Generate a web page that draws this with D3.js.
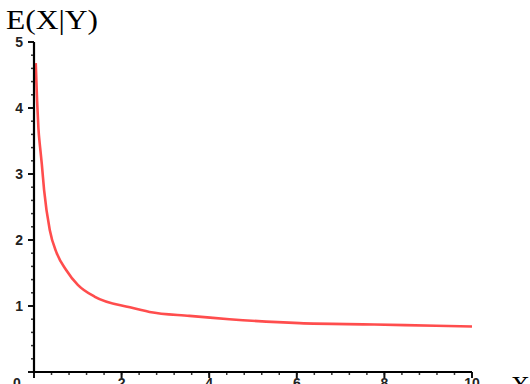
<!DOCTYPE html>
<html><head><meta charset="utf-8">
<script src="https://cdn.jsdelivr.net/npm/d3@7"></script>
<style>body{margin:0;background:#fff;overflow:hidden}svg{display:block}</style>
</head><body>
<svg id="c" width="530" height="384"></svg>
<script>
const xValues = [0.04, 0.07, 0.10, 0.14, 0.18, 0.23, 0.36, 0.52, 0.73, 1.0, 1.39, 2.19, 2.64, 3.55, 4.46, 6.06, 7.77, 9.18, 10];
const yValues = [4.68, 4.12, 3.70, 3.40, 3.14, 2.76, 2.15, 1.80, 1.55, 1.32, 1.14, 0.98, 0.91, 0.85, 0.80, 0.74, 0.72, 0.70, 0.69];
const xMajorTicks = [0, 2, 4, 6, 8, 10];
const yMajorTicks = [0, 1, 2, 3, 4, 5];
const yLabel = "E(X|Y)";
const xLabel = "X";

const svg = d3.select("#c");
const x = d3.scaleLinear().domain([0, 10]).range([34, 472]);
const y = d3.scaleLinear().domain([0, 5]).range([372, 42]);

// curve
const pts = xValues.map((v, i) => [v, yValues[i]]);
svg.append("path").datum(pts)
  .attr("fill", "none").attr("stroke", "#ff4d4d").attr("stroke-width", 2.6)
  .attr("d", d3.line().x(d => x(d[0])).y(d => y(d[1])).curve(d3.curveMonotoneX));

// y axis
const yMinor = d3.range(0, 5.001, 0.2);
const yAx = svg.append("g").attr("transform", `translate(${x(0)},0)`);
yAx.selectAll("line.mi").data(yMinor).join("line")
  .attr("x1", -3).attr("x2", 0).attr("y1", d => y(d)).attr("y2", d => y(d))
  .attr("stroke", "#333").attr("stroke-width", 1.5);
yAx.selectAll("line.ma").data(yMajorTicks).join("line")
  .attr("x1", -6).attr("x2", 0).attr("y1", d => y(d)).attr("y2", d => y(d))
  .attr("stroke", "#111").attr("stroke-width", 2);
yAx.append("line").attr("x1", 0).attr("x2", 0).attr("y1", y(5)).attr("y2", y(0) + 1)
  .attr("stroke", "#000").attr("stroke-width", 2.2);
yAx.selectAll("text").data(yMajorTicks.filter(d => d > 0)).join("text")
  .attr("x", -11).attr("y", d => y(d) + 5).attr("text-anchor", "end")
  .attr("font-family", "Liberation Sans, Arial, sans-serif").attr("font-weight", "bold")
  .attr("font-size", 14).attr("fill", "#222").text(d => d);

// x axis
const xMinor = d3.range(0, 10.001, 0.4);
const xAx = svg.append("g").attr("transform", `translate(0,${y(0)})`);
xAx.selectAll("line.mi").data(xMinor).join("line")
  .attr("y1", 0).attr("y2", 3).attr("x1", d => x(d)).attr("x2", d => x(d))
  .attr("stroke", "#333").attr("stroke-width", 1.5);
xAx.selectAll("line.ma").data(xMajorTicks).join("line")
  .attr("y1", 0).attr("y2", 6).attr("x1", d => x(d)).attr("x2", d => x(d))
  .attr("stroke", "#111").attr("stroke-width", 2);
xAx.append("line").attr("x1", x(0) - 1).attr("x2", x(10)).attr("y1", 0).attr("y2", 0)
  .attr("stroke", "#000").attr("stroke-width", 2.2);
xAx.selectAll("text").data(xMajorTicks).join("text")
  .attr("x", d => d === 0 ? 17 : x(d)).attr("y", 16).attr("text-anchor", "middle")
  .attr("font-family", "Liberation Sans, Arial, sans-serif").attr("font-weight", "bold")
  .attr("font-size", 14).attr("fill", "#222").text(d => d);

// labels
svg.append("text").attr("x", 6).attr("y", 29)
  .attr("font-family", "Liberation Serif, Times New Roman, serif")
  .attr("font-size", 28).attr("textLength", 92).attr("lengthAdjust", "spacingAndGlyphs")
  .attr("fill", "#000").text(yLabel);
svg.append("text").attr("x", 511).attr("y", 394)
  .attr("font-family", "Liberation Serif, Times New Roman, serif")
  .attr("font-size", 26).attr("fill", "#000").text(xLabel);
</script>
</body></html>
